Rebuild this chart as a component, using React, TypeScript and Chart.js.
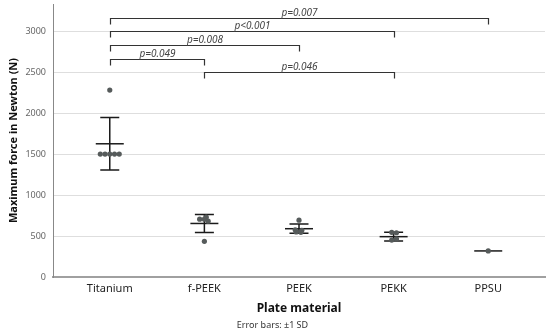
import React, { useEffect, useRef } from "react";
import { Chart, registerables } from "chart.js";

Chart.register(...registerables);

// ---- data ----
const categories = ["Titanium", "f-PEEK", "PEEK", "PEKK", "PPSU"];

const titaniumValues = [1500, 1500, 1500, 1500, 1500, 2280];
const titaniumJitter = [-0.1, -0.05, 0, 0.05, 0.1, 0];
const fPeekValues = [730, 705, 705, 681, 435];
const fPeekJitter = [0.02, -0.05, 0, 0.04, 0];
const peekValues = [693, 575, 570, 550, 545];
const peekJitter = [0, -0.04, 0.03, -0.03, 0.02];
const pekkValues = [545, 540, 465, 450];
const pekkJitter = [-0.02, 0.03, 0.03, -0.02];
const ppsuValues = [318];
const ppsuJitter = [0];

const groupValues = [titaniumValues, fPeekValues, peekValues, pekkValues, ppsuValues];
const groupJitter = [titaniumJitter, fPeekJitter, peekJitter, pekkJitter, ppsuJitter];

const groupMeans = [1625, 653, 589, 492, 318];
const groupSDs = [320, 109, 56, 53, 0];

const bracketFrom = [0, 0, 0, 0, 1];
const bracketTo = [4, 3, 2, 1, 3];
const bracketLevels = [3160, 3000, 2835, 2660, 2500];
const bracketLabels = ["p=0.007", "p<0.001", "p=0.008", "p=0.049", "p=0.046"];

const yTickValues = [0, 500, 1000, 1500, 2000, 2500, 3000];

const FONT = "'Noto Sans', 'DejaVu Sans', sans-serif";

const errorBarPlugin = {
  id: "errorBars",
  beforeDatasetsDraw(chart: any) {
    const { ctx, scales } = chart;
    const xs = scales.x;
    const ys = scales.y;
    ctx.save();
    ctx.strokeStyle = "#1a1a1a";
    ctx.lineWidth = 1.5;
    groupMeans.forEach((m, i) => {
      const cx = xs.getPixelForValue(i);
      const ym = ys.getPixelForValue(m);
      const sd = groupSDs[i];
      ctx.beginPath();
      ctx.moveTo(cx - 14, ym);
      ctx.lineTo(cx + 14, ym);
      ctx.stroke();
      if (sd > 0) {
        const yt = ys.getPixelForValue(m + sd);
        const yb = ys.getPixelForValue(m - sd);
        ctx.beginPath();
        ctx.moveTo(cx, yt);
        ctx.lineTo(cx, yb);
        ctx.moveTo(cx - 9.5, yt);
        ctx.lineTo(cx + 9.5, yt);
        ctx.moveTo(cx - 9.5, yb);
        ctx.lineTo(cx + 9.5, yb);
        ctx.stroke();
      }
    });
    ctx.restore();
  },
};

const bracketPlugin = {
  id: "brackets",
  afterDatasetsDraw(chart: any) {
    const { ctx, scales } = chart;
    const xs = scales.x;
    const ys = scales.y;
    ctx.save();
    ctx.strokeStyle = "#333";
    ctx.lineWidth = 1.2;
    ctx.fillStyle = "#444";
    ctx.font = `italic 10px ${FONT}`;
    ctx.textAlign = "center";
    ctx.textBaseline = "bottom";
    bracketLevels.forEach((lvl, i) => {
      const x1 = Math.round(xs.getPixelForValue(bracketFrom[i])) + 0.5;
      const x2 = Math.round(xs.getPixelForValue(bracketTo[i])) + 0.5;
      const y = Math.round(ys.getPixelForValue(lvl)) + 0.5;
      ctx.beginPath();
      ctx.moveTo(x1, y + 6);
      ctx.lineTo(x1, y);
      ctx.lineTo(x2, y);
      ctx.lineTo(x2, y + 6);
      ctx.stroke();
      ctx.fillText(bracketLabels[i], (x1 + x2) / 2, y - 0.5);
    });
    ctx.restore();
  },
};

export default function App() {
  const ref = useRef<HTMLCanvasElement>(null);

  useEffect(() => {
    if (!ref.current) return;
    const points: { x: number; y: number }[] = [];
    groupValues.forEach((vals, i) => {
      vals.forEach((v, j) => points.push({ x: i + groupJitter[i][j], y: v }));
    });

    const chart = new Chart(ref.current, {
      type: "scatter",
      data: {
        datasets: [
          {
            data: points,
            backgroundColor: "#565b5b",
            borderColor: "#565b5b",
            pointRadius: 2.6,
            pointBorderWidth: 0,
          },
        ],
      },
      options: {
        responsive: false,
        animation: false,
        layout: { padding: { top: 2, right: 5, left: 0, bottom: 0 } },
        plugins: {
          legend: { display: false },
          tooltip: { enabled: false },
          subtitle: {
            display: true,
            position: "bottom",
            text: "Error bars: \u00b11 SD",
            color: "#333",
            font: { size: 9, family: FONT },
            padding: { top: 0, bottom: 4 },
          },
        },
        scales: {
          x: {
            type: "linear",
            min: -0.6,
            max: 4.6,
            afterBuildTicks: (s: any) => {
              s.ticks = categories.map((_, i) => ({ value: i }));
            },
            afterFit: (s: any) => {
              s.height = 43.2;
            },
            ticks: {
              callback: (v: any) => categories[v] ?? "",
              color: "#222",
              font: { size: 11, family: FONT },
              padding: 5,
              autoSkip: false,
              maxRotation: 0,
            },
            grid: { display: true, color: "rgba(0,0,0,0)", drawTicks: false },
            border: { display: true, color: "#a0a0a0", width: 2 },
            title: {
              display: true,
              text: "Plate material",
              color: "#111",
              font: { size: 12, weight: "bold", family: FONT },
              padding: { top: 0, bottom: 4 },
            },
          },
          y: {
            type: "linear",
            min: 0,
            max: 3330,
            afterBuildTicks: (s: any) => {
              s.ticks = yTickValues.map((v) => ({ value: v }));
            },
            afterFit: (s: any) => {
              s.width = 53;
              s.paddingTop = 0;
              s.paddingBottom = 0;
            },
            ticks: {
              callback: (v: any) => String(v),
              color: "#666",
              font: { size: 9, family: FONT },
              padding: 7,
            },
            grid: { color: "#dedede", lineWidth: 1, drawTicks: false },
            border: { display: true, color: "#888", width: 1 },
            title: {
              display: true,
              text: "Maximum force in Newton (N)",
              color: "#111",
              font: { size: 11, weight: "bold", family: FONT },
              padding: { top: 7, bottom: 0 },
            },
          },
        },
      },
      plugins: [errorBarPlugin, bracketPlugin],
    } as any);

    return () => chart.destroy();
  }, []);

  return (
    <div style={{ position: "fixed", left: 0, top: 0, width: 550, height: 335, background: "#fff" }}>
      <canvas ref={ref} width={550} height={335} />
    </div>
  );
}
